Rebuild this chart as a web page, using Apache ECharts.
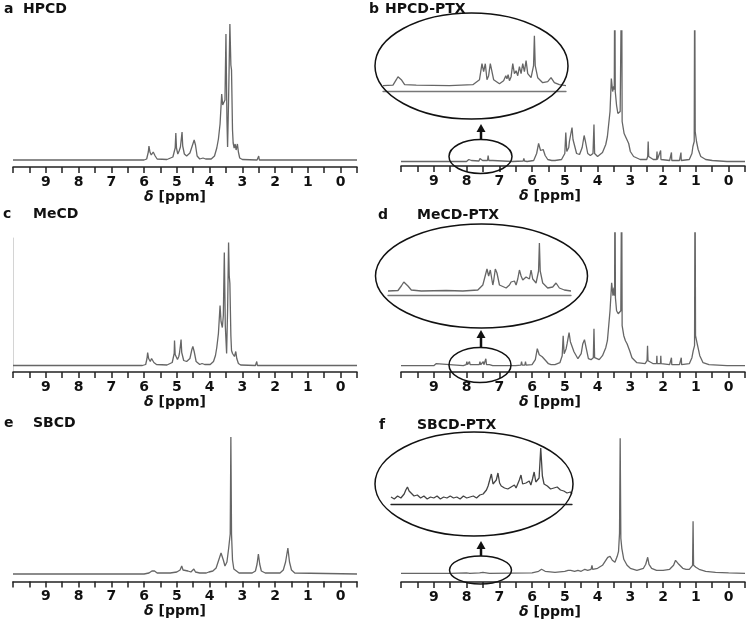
<!DOCTYPE html>
<html>
<head>
<meta charset="utf-8">
<title>1H NMR spectra</title>
<script src="https://cdn.jsdelivr.net/npm/echarts@6/dist/echarts.min.js"></script>
<style>
  html, body { margin: 0; padding: 0; background: #fff; }
  #chart { width: 750px; height: 624px; }
</style>
</head>
<body>
<div id="chart"></div>
<script>
// chemical shift (ppm) / intensity pairs (intensity in px above baseline)
var hpcd = [[10,0],[6.0,0],[5.92,1],[5.87,8],[5.85,14],[5.82,8],[5.78,5],[5.72,8],[5.70,8],[5.66,4],[5.6,1],[5.3,0.5],[5.12,3],[5.08,4],[5.05,12],[5.03,27],[5.01,12],[4.97,6],[4.93,9],[4.89,13],[4.86,22],[4.84,28],[4.82,14],[4.77,6],[4.7,4],[4.6,7],[4.5,17],[4.47,20],[4.43,15],[4.38,4],[4.3,1],[4.2,2],[4.12,1],[3.95,1],[3.85,4],[3.78,12],[3.73,21],[3.68,36],[3.63,66],[3.60,55],[3.56,53],[3.53,60],[3.50,126],[3.47,40],[3.45,13],[3.42,60],[3.38,136],[3.35,95],[3.33,90],[3.30,30],[3.28,17],[3.25,12],[3.22,16],[3.19,10],[3.15,16],[3.12,8],[3.08,2],[3.0,0.5],[2.55,0],[2.52,2],[2.50,4],[2.48,0],[-0.5,0]];
var hpcdPtx = [[10,0],[8.9,0],[8.87,1.5],[8.84,0],[8.0,0],[7.93,2],[7.91,4],[7.89,2],[7.87,4],[7.85,1],[7.62,0.5],[7.59,3],[7.56,1],[7.51,1],[7.49,3],[7.47,1],[7.36,1],[7.34,6],[7.32,1],[7.2,1],[6.6,0],[6.27,0.5],[6.25,3],[6.23,0.5],[6.17,2],[6.15,0],[5.95,1],[5.86,8],[5.80,18],[5.74,11],[5.70,11],[5.66,12],[5.6,6],[5.52,2],[5.4,1],[5.35,2],[5.3,1],[5.1,2],[5.0,8],[4.97,29],[4.94,10],[4.88,14],[4.86,20],[4.82,22],[4.78,34],[4.75,22],[4.71,20],[4.64,8],[4.55,7],[4.47,14],[4.41,26],[4.37,20],[4.3,8],[4.22,6],[4.14,8],[4.11,37],[4.09,8],[4.0,5],[3.85,9],[3.75,17],[3.70,25],[3.67,27],[3.62,50],[3.58,83],[3.54,70],[3.51,75],[3.49,72],[3.475,200],[3.46,70],[3.42,56],[3.38,48],[3.35,46],[3.31,50],[3.28,50],[3.265,200],[3.25,40],[3.19,28],[3.12,23],[3.08,24],[3.05,18],[3.0,10],[2.9,5],[2.7,2],[2.5,2],[2.47,5],[2.455,20],[2.44,5],[2.3,2],[2.2,2],[2.185,10],[2.175,2],[2.12,2],[2.075,11],[2.065,2],[1.8,1],[1.745,9],[1.735,1],[1.5,1],[1.455,9],[1.445,1],[1.2,2],[1.12,8],[1.09,15],[1.05,20],[1.035,200],[1.02,30],[0.98,20],[0.93,12],[0.85,5],[0.7,2],[0.5,1],[0.05,0],[0.01,1],[-0.03,0],[-0.5,0]];
var mecd = [[10,0],[6.05,0],[5.95,1],[5.91,7],[5.89,13],[5.86,7],[5.81,4],[5.77,7],[5.75,7],[5.70,3],[5.62,1],[5.3,0.5],[5.14,3],[5.10,5],[5.08,12],[5.07,25],[5.05,11],[4.98,6],[4.94,9],[4.92,12],[4.89,20],[4.87,26],[4.85,13],[4.79,5],[4.7,4],[4.6,7],[4.54,16],[4.51,19],[4.47,14],[4.41,4],[4.3,1],[4.23,2],[4.15,1],[3.98,1],[3.88,4],[3.82,10],[3.78,18],[3.73,32],[3.68,60],[3.65,44],[3.61,38],[3.58,50],[3.55,113],[3.52,40],[3.48,12],[3.45,55],[3.42,123],[3.40,90],[3.38,82],[3.35,30],[3.33,15],[3.30,12],[3.28,14],[3.24,9],[3.20,14],[3.17,7],[3.12,2],[3.05,0.5],[2.6,0],[2.58,2],[2.56,4],[2.54,0],[1.2,0],[1.15,0.5],[1.1,0],[-0.5,0]];
var mecdPtx = [[10,0],[9.0,0],[8.95,0.5],[8.93,2],[8.91,0.5],[8.1,0],[8.01,1],[7.99,4],[7.97,1],[7.93,1],[7.91,4],[7.89,1],[7.71,1],[7.69,3],[7.67,1],[7.61,1],[7.59,4],[7.57,1],[7.51,1],[7.49,4],[7.47,1],[7.43,1],[7.41,7],[7.39,1],[7.3,1],[7.2,0],[6.5,0],[6.34,0.5],[6.32,4],[6.30,0.5],[6.22,0.5],[6.20,4],[6.18,0.5],[6.0,1],[5.9,6],[5.84,17],[5.78,11],[5.74,11],[5.69,9],[5.64,11],[5.58,5],[5.5,2],[5.42,1],[5.40,2],[5.3,1],[5.15,3],[5.08,10],[5.05,30],[5.02,12],[4.96,17],[4.93,22],[4.90,24],[4.87,33],[4.83,24],[4.78,25],[4.72,14],[4.6,7],[4.5,12],[4.45,22],[4.40,26],[4.35,18],[4.28,7],[4.2,6],[4.13,8],[4.11,37],[4.09,8],[3.95,6],[3.85,10],[3.75,18],[3.70,25],[3.67,27],[3.62,55],[3.57,83],[3.53,70],[3.50,78],[3.48,70],[3.47,200],[3.455,68],[3.42,55],[3.37,52],[3.33,50],[3.29,55],[3.265,200],[3.25,40],[3.2,30],[3.15,25],[3.1,22],[3.06,23],[3.02,15],[2.95,8],[2.8,3],[2.55,2],[2.49,5],[2.475,20],[2.46,5],[2.3,2],[2.2,2],[2.19,10],[2.18,2],[2.08,2],[2.07,10],[2.06,2],[1.8,1],[1.745,8],[1.735,1],[1.5,1],[1.445,8],[1.435,1],[1.2,2],[1.12,8],[1.08,15],[1.04,20],[1.025,200],[1.01,30],[0.96,22],[0.88,10],[0.78,3],[0.6,1],[0.05,0],[0.01,1],[-0.03,0],[-0.5,0]];
var sbcd = [[10,0],[6.0,0],[5.85,1],[5.76,3],[5.72,5],[5.68,3],[5.6,1],[5.2,1],[5.0,2],[4.9,4],[4.85,8],[4.81,4],[4.75,2],[4.66,3],[4.57,2],[4.48,5],[4.43,2],[4.3,1],[4.1,1],[4.02,2],[3.97,2],[3.9,3],[3.8,6],[3.72,14],[3.65,21],[3.58,14],[3.53,8],[3.47,12],[3.42,25],[3.40,31],[3.37,40],[3.35,137],[3.33,40],[3.30,14],[3.26,5],[3.2,3],[3.1,1],[2.7,1],[2.6,3],[2.55,10],[2.51,20],[2.47,10],[2.42,3],[2.3,1],[1.85,1],[1.75,4],[1.68,12],[1.61,26],[1.56,12],[1.5,4],[1.4,1],[-0.5,0]];
var sbcdPtx = [[10,0],[8.5,0],[8.0,0.5],[7.9,0],[7.6,0.5],[7.5,1],[7.3,0],[6.0,0.5],[5.8,2],[5.71,4],[5.6,2],[5.3,1],[5.0,2],[4.9,3],[4.86,5],[4.82,3],[4.7,2],[4.6,3],[4.5,2],[4.39,4],[4.3,3],[4.2,4],[4.17,8],[4.15,4],[4.0,5],[3.85,8],[3.77,12],[3.69,16],[3.62,17],[3.55,13],[3.47,11],[3.40,17],[3.36,22],[3.33,40],[3.31,135],[3.29,35],[3.26,25],[3.2,14],[3.1,8],[3.0,5],[2.8,3],[2.6,5],[2.53,9],[2.47,16],[2.43,9],[2.35,5],[2.2,3],[2.0,3],[1.8,4],[1.68,8],[1.62,13],[1.57,14],[1.52,9],[1.4,5],[1.3,4],[1.2,4],[1.1,8],[1.085,52],[1.07,8],[1.0,6],[0.9,4],[0.7,2],[0.4,1],[0,0.5],[-0.5,0]];

// aromatic region (8.2 - 7.1 ppm) shown in the enlarged insets
var hpcdPtxZoom = [[8.2,0],[8.14,0.5],[8.12,6],[8.11,9],[8.10,9],[8.09,6],[8.07,1],[8.0,0.5],[7.8,0],[7.66,1],[7.62,6],[7.605,22],[7.595,14],[7.585,22],[7.575,6],[7.565,10],[7.555,22],[7.545,20],[7.535,6],[7.50,2],[7.475,5],[7.462,10],[7.455,7],[7.448,11],[7.44,5],[7.43,9],[7.42,22],[7.41,12],[7.40,15],[7.39,10],[7.38,19],[7.37,12],[7.36,22],[7.35,14],[7.34,25],[7.33,12],[7.31,8],[7.295,20],[7.29,50],[7.285,20],[7.27,8],[7.24,3],[7.21,4],[7.19,8],[7.17,3],[7.14,1],[7.1,0]];
var mecdPtxZoom = [[8.2,0],[8.14,0.5],[8.12,5],[8.105,9],[8.095,9],[8.08,5],[8.06,1],[8.0,0],[7.85,0.5],[7.75,0],[7.66,1],[7.63,6],[7.605,22],[7.595,15],[7.585,21],[7.57,6],[7.565,10],[7.555,22],[7.545,18],[7.53,6],[7.49,3],[7.47,6],[7.46,9],[7.45,7],[7.44,10],[7.43,6],[7.42,12],[7.41,21],[7.40,15],[7.39,11],[7.37,14],[7.365,12],[7.36,15],[7.35,12],[7.34,21],[7.33,12],[7.31,8],[7.295,20],[7.29,48],[7.285,20],[7.27,8],[7.24,3],[7.21,4],[7.19,8],[7.17,3],[7.14,1],[7.1,0]];
var sbcdPtxZoom = [[8.2,1],[8.18,-1],[8.16,2],[8.14,0],[8.12,4],[8.11,8],[8.10,11],[8.09,7],[8.08,5],[8.06,2],[8.04,3],[8.02,0],[8.0,2],[7.98,-1],[7.96,1],[7.94,0],[7.92,2],[7.90,-1],[7.88,1],[7.86,0],[7.84,2],[7.82,0],[7.80,1],[7.78,-1],[7.76,2],[7.74,0],[7.72,1],[7.70,2],[7.68,0],[7.66,3],[7.64,4],[7.62,8],[7.61,12],[7.60,18],[7.59,24],[7.58,14],[7.57,12],[7.56,18],[7.55,25],[7.54,15],[7.53,12],[7.51,10],[7.49,9],[7.47,11],[7.46,10],[7.45,13],[7.44,10],[7.43,12],[7.42,18],[7.41,23],[7.40,14],[7.39,13],[7.38,15],[7.37,14],[7.36,17],[7.35,13],[7.34,19],[7.33,26],[7.32,16],[7.31,14],[7.30,20],[7.29,50],[7.28,22],[7.27,14],[7.25,12],[7.23,9],[7.21,10],[7.19,11],[7.17,8],[7.15,7],[7.13,5],[7.11,6],[7.10,4]];

var tickLabels = ['9', '8', '7', '6', '5', '4', '3', '2', '1', '0'];
var panelLetters = ['a', 'b', 'c', 'd', 'e', 'f'];
var panelNames = ['HPCD', 'HPCD-PTX', 'MeCD', 'MeCD-PTX', 'SBCD', 'SBCD-PTX'];

var FONT = '"DejaVu Sans", "Liberation Sans", Arial, sans-serif';
var LINE = '#666';

// main panels: grid box + y range (y units are px above the baseline)
var panels = [
  { data: hpcd,    left: 13,  top: 20,  height: 147, ymin: -7,   ymax: 140,  nameShift: 20 },
  { data: hpcdPtx, left: 401, top: 31,  height: 135, ymin: -4.5, ymax: 130.5, nameShift: 46 },
  { data: mecd,    left: 13,  top: 238, height: 134, ymin: -6.5, ymax: 127.5, nameShift: 20, yLine: true },
  { data: mecdPtx, left: 401, top: 233, height: 139, ymin: -6.3, ymax: 132.7, nameShift: 46 },
  { data: sbcd,    left: 13,  top: 430, height: 151.5, ymin: -7.5, ymax: 144, nameShift: 20 },
  { data: sbcdPtx, left: 401, top: 430, height: 152, ymin: -8.7, ymax: 143.3, nameShift: 46 }
];
var insets = [
  { data: hpcdPtxZoom, left: 383, width: 183, top: 30,  height: 61, ymin: -5.3, ymax: 55.7, axis: '#777' },
  { data: mecdPtxZoom, left: 388, width: 183, top: 235, height: 60, ymin: -4,   ymax: 56,   axis: '#777' },
  { data: sbcdPtxZoom, left: 391, width: 181, top: 440, height: 64, ymin: -6,   ymax: 58,   axis: '#222' }
];
// [big cx, cy, rx, ry, small cx, cy, rx, ry, arrow x, arrow bottom, arrow tip]
var callouts = [
  [471.5, 66, 96.5, 53, 480.5, 156.5, 31.5, 17, 481, 139.5, 124],
  [481.5, 276, 106, 52, 480, 365, 31, 17.5, 481, 347.5, 330],
  [474, 484, 99, 52, 480.5, 570, 31, 14, 481, 556, 541]
];

var grids = [], xAxes = [], yAxes = [], series = [];

panels.forEach(function (p, i) {
  grids.push({ left: p.left, top: p.top, width: 344, height: p.height });
  xAxes.push({
    type: 'value', gridIndex: i, min: -0.5, max: 10, interval: 0.5, inverse: true,
    axisLine: { onZero: false, lineStyle: { color: '#222', width: 1.5 } },
    axisTick: { length: 6, lineStyle: { color: '#222', width: 1.5 } },
    splitLine: { show: false },
    axisLabel: {
      margin: 8, color: '#111', fontFamily: FONT, fontWeight: 'bold', fontSize: 14,
      formatter: function (v) { return tickLabels.indexOf(String(v)) >= 0 ? String(v) : ''; }
    },
    name: '{i|δ} [ppm]', nameLocation: 'middle', nameGap: 22,
    nameTextStyle: {
      color: '#111', fontFamily: FONT, fontWeight: 'bold', fontSize: 14,
      padding: [0, p.nameShift, 0, 0],
      rich: { i: { fontStyle: 'italic', fontWeight: 'bold', fontFamily: FONT, fontSize: 14, color: '#111' } }
    }
  });
  yAxes.push({
    type: 'value', gridIndex: i, min: p.ymin, max: p.ymax, position: 'left',
    show: !!p.yLine,
    axisLine: { show: !!p.yLine, onZero: false, lineStyle: { color: '#d4d4d4', width: 1 } },
    axisTick: { show: false }, axisLabel: { show: false }, splitLine: { show: false }
  });
  series.push({
    type: 'line', xAxisIndex: i, yAxisIndex: i, data: p.data,
    showSymbol: false, clip: true, lineStyle: { color: LINE, width: 1.3 }
  });
});

insets.forEach(function (s, k) {
  var i = panels.length + k;
  grids.push({ left: s.left, top: s.top, width: s.width, height: s.height });
  xAxes.push({
    type: 'value', gridIndex: i, min: 7.1, max: 8.2, inverse: true,
    axisLine: { onZero: false, lineStyle: { color: s.axis, width: 1.3 } },
    axisTick: { show: false }, axisLabel: { show: false }, splitLine: { show: false }
  });
  yAxes.push({ type: 'value', gridIndex: i, min: s.ymin, max: s.ymax, show: false, splitLine: { show: false } });
  series.push({
    type: 'line', xAxisIndex: i, yAxisIndex: i, data: s.data,
    showSymbol: false, clip: true, lineStyle: { color: k === 2 ? '#444' : LINE, width: 1.3 }
  });
});

var graphics = [];
callouts.forEach(function (c) {
  graphics.push({ type: 'ellipse', shape: { cx: c[0], cy: c[1], rx: c[2], ry: c[3] },
    style: { fill: 'none', stroke: '#111', lineWidth: 1.5 }, z: 10 });
  graphics.push({ type: 'ellipse', shape: { cx: c[4], cy: c[5], rx: c[6], ry: c[7] },
    style: { fill: 'none', stroke: '#111', lineWidth: 1.5 }, z: 10 });
  graphics.push({ type: 'line', shape: { x1: c[8], y1: c[9], x2: c[8], y2: c[10] + 6 },
    style: { stroke: '#111', lineWidth: 2.5 }, z: 10 });
  graphics.push({ type: 'polygon', shape: { points: [[c[8], c[10]], [c[8] - 4.5, c[10] + 8], [c[8] + 4.5, c[10] + 8]] },
    style: { fill: '#111' }, z: 10 });
});

// panel captions: [letter x, name x, y]
var captionPos = [[4, 23, 9], [369, 385, 9], [3, 33, 214], [378, 417, 215], [4, 33, 423], [379, 417, 425]];
captionPos.forEach(function (c, i) {
  graphics.push({ type: 'text', style: { text: panelLetters[i], x: c[0], y: c[2], verticalAlign: 'middle',
    font: 'bold 14px ' + FONT, fill: '#111' } });
  graphics.push({ type: 'text', style: { text: panelNames[i], x: c[1], y: c[2], verticalAlign: 'middle',
    font: 'bold 14px ' + FONT, fill: '#111' } });
});

var chart = echarts.init(document.getElementById('chart'));
chart.setOption({
  animation: false,
  backgroundColor: '#fff',
  grid: grids,
  xAxis: xAxes,
  yAxis: yAxes,
  series: series,
  graphic: graphics
});
</script>
</body>
</html>
